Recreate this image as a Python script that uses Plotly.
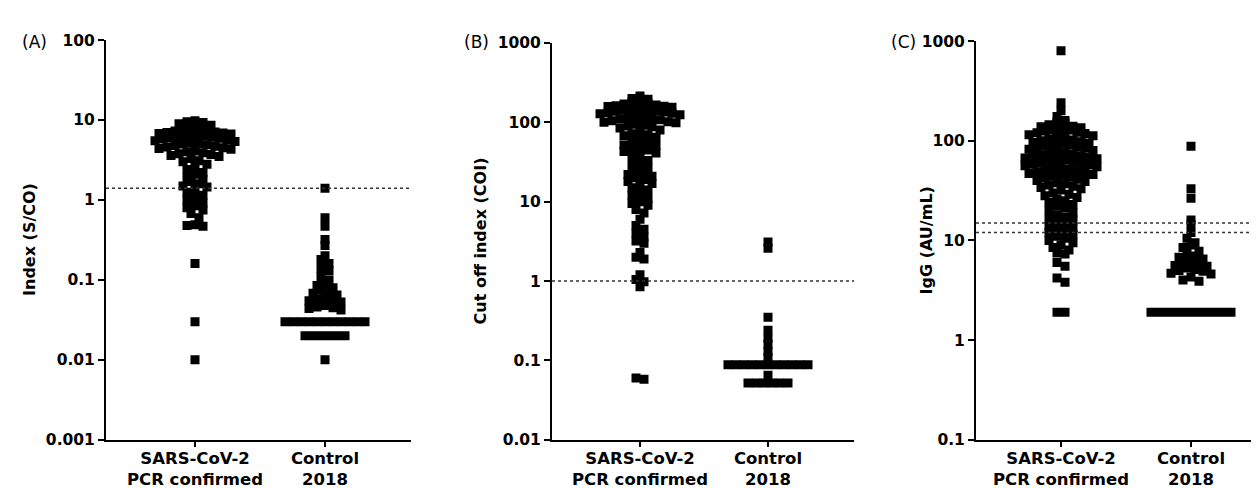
import numpy as np
import plotly.graph_objects as go

W, H = 1259, 488

categories = ["SARS-CoV-2<br>PCR confirmed", "Control<br>2018"]

# ---------- Panel A: Index (S/CO) ----------
sars_a = [9.8, 9.5, 9.3, 9.0, 8.6,
          8.1, 7.9, 7.7, 7.5, 7.3, 7.1, 7.0, 6.9, 6.8, 6.7,
          6.5, 6.4, 6.3, 6.2, 6.1, 6.0, 5.9, 5.8, 5.6, 5.5, 5.4,
          5.2, 5.1, 5.0, 4.9, 4.8, 4.7, 4.6, 4.5, 4.4, 4.3,
          4.1, 4.0, 3.9, 3.8, 3.7, 3.6, 3.5,
          3.3, 3.1, 3.0, 2.8,
          2.6, 2.4, 2.2,
          2.1, 1.9, 1.8,
          1.7, 1.6, 1.5, 1.45,
          1.35, 1.25, 1.15,
          1.05, 1.0, 0.92,
          0.85, 0.8, 0.75,
          0.68, 0.6,
          0.49, 0.48, 0.47,
          0.16, 0.03, 0.01]
ctrl_a = ([1.4, 0.6, 0.47, 0.32, 0.27, 0.2,
           0.18, 0.16, 0.14, 0.13, 0.11, 0.1,
           0.09, 0.085, 0.08,
           0.075, 0.07, 0.068, 0.065,
           0.06, 0.058, 0.056, 0.055, 0.053,
           0.048, 0.046, 0.045, 0.044, 0.042]
          + [0.03] * 11 + [0.02] * 6 + [0.01])
cutoff_a = [1.4]

# ---------- Panel B: Cut off index (COI) ----------
sars_b = [215, 200, 195,
          185, 180, 175, 170, 165, 162, 160, 158, 155,
          150, 148, 145, 142, 140, 138, 135, 132, 130, 128, 125,
          120, 118, 115, 112, 110, 108, 105, 102, 100, 99,
          95, 92, 90, 88, 85, 80,
          76, 72, 70, 68, 65,
          60, 58, 55, 52, 51,
          48, 46, 45, 43, 41,
          38, 36, 33,
          30, 28, 26,
          25, 24, 22, 21,
          20, 19, 18, 17,
          16, 15, 14,
          12.5, 12, 11,
          10, 9.5, 9,
          8, 7.2,
          6,
          5, 4.5,
          4, 3.6,
          3.2, 3.0,
          2.3,
          2.0, 1.9,
          1.2,
          1.05, 0.98,
          0.85,
          0.06, 0.058]
ctrl_b = ([3.1, 2.6, 0.35, 0.24, 0.19, 0.16, 0.13, 0.11]
          + [0.088] * 11 + [0.065] + [0.052] * 6)
cutoff_b = [1.0]

# ---------- Panel C: IgG (AU/mL) ----------
sars_c = [800, 240, 200, 175,
          160, 155, 150, 145, 140, 138, 135,
          132, 130, 128, 125, 122, 120, 118, 115, 112,
          110, 108, 105, 102, 100, 98, 96, 95,
          92, 91, 90, 88, 86, 85, 84, 82, 80,
          78, 76, 75, 73, 72, 70, 70, 68, 67, 66,
          65, 64, 62, 61, 60, 59, 58, 57, 56, 55,
          54, 53, 52, 51, 50, 49, 48, 47, 46,
          45, 44, 43, 42, 41, 40, 39,
          38, 37, 36, 35, 34, 33,
          32, 30, 29, 28, 27,
          26, 25, 24, 23,
          22, 21, 20, 19,
          18, 17, 16.5, 16,
          15, 14.5, 14, 13.5,
          13, 12.5, 12, 11.5, 11,
          10.5, 10, 9.5,
          9, 8.5, 8,
          7.5, 7.3,
          6, 5.5, 4.2, 3.8, 1.9, 1.9]
ctrl_c = ([88, 33, 26.5, 16, 14.5, 12, 10.5, 9.5, 9, 8.5, 7.8, 7.4, 7, 6.8, 6.5,
           6.3, 6, 5.8, 5.6, 5.5, 5.3, 5.1, 5, 4.9, 4.7, 4.6, 4.3, 4.0, 3.9]
          + [1.9] * 11)
cutoff_c = [15, 12]

ticks_a = [0.001, 0.01, 0.1, 1, 10, 100]
ticks_b = [0.01, 0.1, 1, 10, 100, 1000]
ticks_c = [0.1, 1, 10, 100, 1000]

# layout geometry (pixels)
panels = [
    dict(label="(A)", title="Index (S/CO)", groups=[sars_a, ctrl_a], cut=cutoff_a,
         ticks=ticks_a, xpx=(98, 403), ypx=(24, 439), cat_px=(187, 317),
         label_xy=(26, 26), title_x=22),
    dict(label="(B)", title="Cut off index (COI)", groups=[sars_b, ctrl_b], cut=cutoff_b,
         ticks=ticks_b, xpx=(544, 846), ypx=(27, 439), cat_px=(632, 760),
         label_xy=(468, 26), title_x=472),
    dict(label="(C)", title="IgG (AU/mL)", groups=[sars_c, ctrl_c], cut=cutoff_c,
         ticks=ticks_c, xpx=(968, 1259), ypx=(25, 439), cat_px=(1053, 1183),
         label_xy=(895, 26), title_x=918),
]

MS = 9.0      # marker size (px)
SX = 8.0      # horizontal spacing inside a row (px)
BH = 8.0      # row (bin) height (px)


def scatter_rows(values, px_per_decade):
    """GraphPad-like column scatter: bin points into rows, centre each row."""
    v = np.asarray(values, dtype=float)
    k = np.round(np.log10(v) * px_per_decade / BH).astype(int)
    xs = np.zeros(len(v))
    for b in np.unique(k):
        idx = np.where(k == b)[0]
        idx = idx[np.argsort(-v[idx], kind="stable")]
        n = len(idx)
        pos = (np.arange(n) - (n - 1) / 2) * SX
        pos = pos[np.argsort(np.abs(pos), kind="stable")]
        xs[idx] = pos
    return xs


fig = go.Figure()
layout = dict(width=W, height=H, margin=dict(l=0, r=0, t=0, b=0),
              paper_bgcolor="white", plot_bgcolor="white", showlegend=False,
              annotations=[], shapes=[])

tick_font = dict(family="DejaVu Sans", size=15.5, color="black", weight="bold")
xtick_font = dict(family="DejaVu Sans", size=16.5, color="black", weight="bold")

for k, p in enumerate(panels, start=1):
    xa = "xaxis" if k == 1 else f"xaxis{k}"
    ya = "yaxis" if k == 1 else f"yaxis{k}"
    xr = "x" if k == 1 else f"x{k}"
    yr = "y" if k == 1 else f"y{k}"
    x0, x1 = p["xpx"]
    ytop, ybot = p["ypx"]
    c0, c1 = p["cat_px"]
    unit = c1 - c0
    lo = 1 - (c0 - x0) / unit
    hi = 2 + (x1 - c1) / unit
    lmin, lmax = np.log10(p["ticks"][0]), np.log10(p["ticks"][-1])
    ppd = (ybot - ytop) / (lmax - lmin)

    for gi, vals in enumerate(p["groups"]):
        off = scatter_rows(vals, ppd) / unit
        fig.add_trace(go.Scatter(
            x=(gi + 1) + off, y=vals, mode="markers", xaxis=xr, yaxis=yr,
            marker=dict(symbol="square", size=MS, color="black", line=dict(width=0)),
            hoverinfo="y"))

    layout[xa] = dict(domain=[x0 / W, x1 / W], range=[lo, hi], anchor=yr,
                      tickvals=[1, 2], ticktext=categories, ticks="outside",
                      ticklen=5, tickwidth=1.5, tickcolor="black",
                      ticklabelstandoff=-3,
                      showline=True, linecolor="black", linewidth=2,
                      showgrid=False, zeroline=False, tickfont=xtick_font)
    layout[ya] = dict(domain=[1 - ybot / H, 1 - ytop / H], type="log",
                      range=[lmin, lmax], anchor=xr,
                      tickvals=p["ticks"], ticktext=[f"{t:g}" for t in p["ticks"]],
                      ticks="outside", ticklen=6, tickwidth=1.5, tickcolor="black",
                      showline=True, linecolor="black", linewidth=2,
                      showgrid=False, zeroline=False, tickfont=tick_font)

    for cv in p["cut"]:
        layout["shapes"].append(dict(type="line", xref=f"{xr} domain", yref=yr,
                                     x0=0, x1=1, y0=cv, y1=cv,
                                     line=dict(color="#333333", width=1.5, dash="dot")))

    lx, ly = p["label_xy"]
    layout["annotations"].append(dict(
        text=p["label"], x=lx / W, y=1 - ly / H, xref="paper", yref="paper",
        showarrow=False, xanchor="center", yanchor="middle",
        font=dict(family="DejaVu Sans", size=17, color="black")))
    layout["annotations"].append(dict(
        text=p["title"], x=p["title_x"] / W, y=1 - ((ytop + ybot) / 2) / H,
        xref="paper", yref="paper", showarrow=False, textangle=-90,
        xanchor="center", yanchor="middle",
        font=dict(family="DejaVu Sans", size=16, color="black", weight="bold")))

fig.update_layout(**layout)
fig.write_html("out.html")
